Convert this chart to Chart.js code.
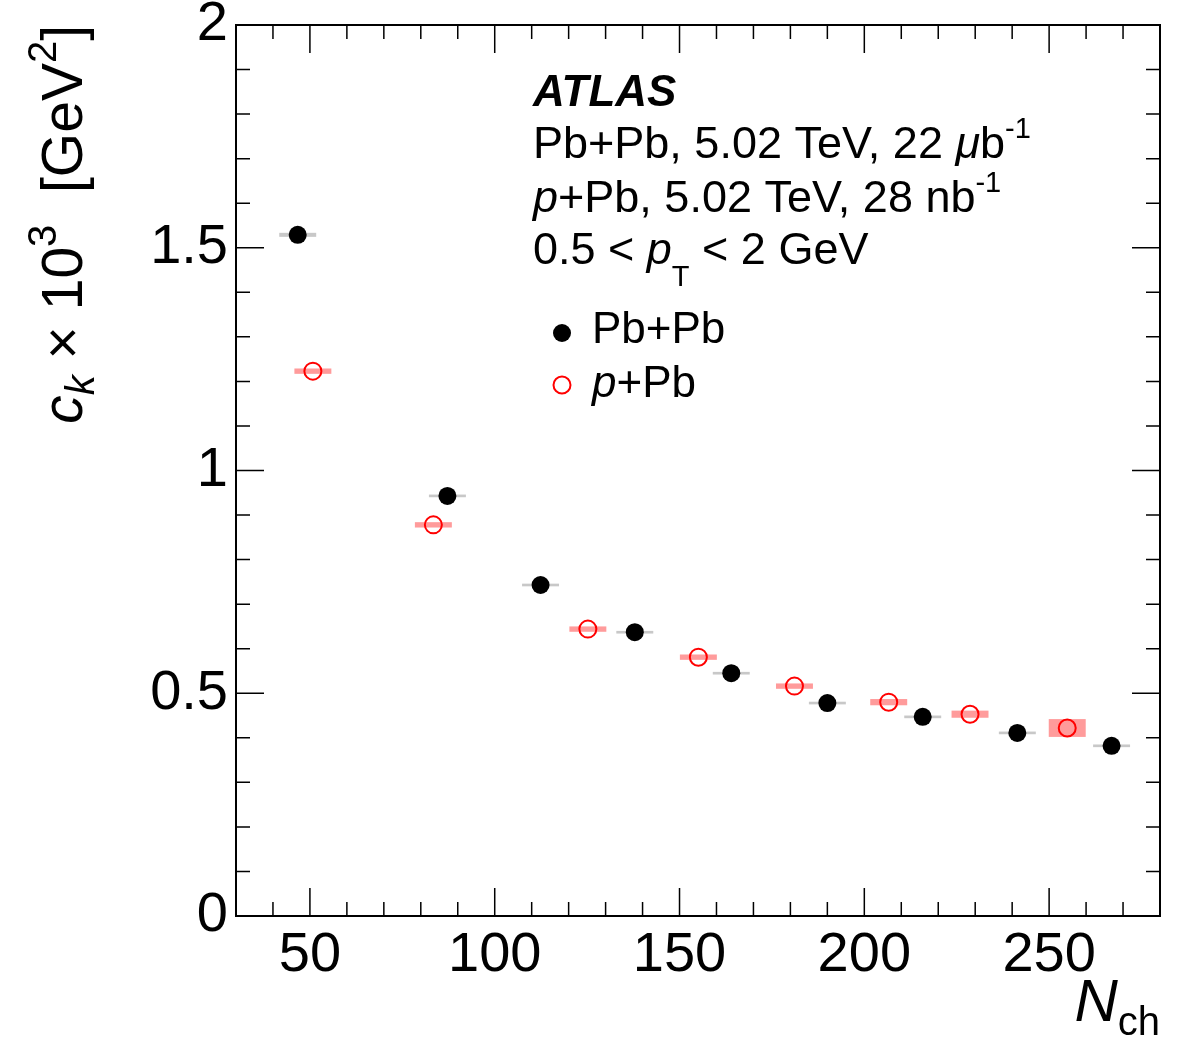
<!DOCTYPE html>
<html>
<head>
<meta charset="utf-8">
<script src="https://cdn.jsdelivr.net/npm/chart.js@4.4.1/dist/chart.umd.min.js"></script>
<style>
  body { margin: 0; background: #fff; }
  canvas { display: block; }
</style>
</head>
<body>
<canvas id="grafica" width="1182" height="1059"></canvas>
<script>
// Pb+Pb (filled black points)
const nchPbPb = [46.7, 87.2, 112.4, 137.9, 164.0, 190.0, 215.8, 241.4, 266.9];
const ckPbPb = [1.529, 0.943, 0.743, 0.637, 0.545, 0.478, 0.447, 0.411, 0.382];
const systPbPb = [0.0045, 0.003, 0.003, 0.003, 0.003, 0.003, 0.003, 0.003, 0.003];

// p+Pb (open red points)
const nchPPb = [50.8, 83.4, 125.2, 155.1, 181.1, 206.6, 228.6, 254.9];
const ckPPb = [1.223, 0.878, 0.644, 0.581, 0.516, 0.480, 0.453, 0.422];
const systPPb = [0.006, 0.006, 0.006, 0.006, 0.006, 0.007, 0.008, 0.02];

const nchHalfWidth = 5; // ancho de las cajas sistematicas

const xTicks = [50, 100, 150, 200, 250];
const yTicks = [0, 0.5, 1, 1.5, 2];

const FONT = '"Liberation Sans", Arial, Helvetica, sans-serif';

function toPoints(xs, ys) {
  return xs.map((x, i) => ({ x: x, y: ys[i] }));
}

// dibuja texto por trozos (normal, italica, sub/superindice)
function drawRich(ctx, x, y, parts) {
  let cx = x;
  parts.forEach(p => {
    ctx.font = (p.style || '') + ' ' + p.size + 'px ' + FONT;
    ctx.fillText(p.t, cx, y + (p.dy || 0));
    cx += ctx.measureText(p.t).width;
  });
  return cx - x;
}

function richWidth(ctx, parts) {
  let w = 0;
  parts.forEach(p => {
    ctx.font = (p.style || '') + ' ' + p.size + 'px ' + FONT;
    w += ctx.measureText(p.t).width;
  });
  return w;
}

// cajas de incertidumbre sistematica
const systBoxes = {
  id: 'systBoxes',
  beforeDatasetsDraw(chart) {
    const { ctx, scales: { x, y } } = chart;
    ctx.save();
    ctx.fillStyle = 'rgb(200,200,200)';
    nchPbPb.forEach((n, i) => {
      const x0 = x.getPixelForValue(n - nchHalfWidth);
      const x1 = x.getPixelForValue(n + nchHalfWidth);
      const y0 = y.getPixelForValue(ckPbPb[i] + systPbPb[i]);
      const y1 = y.getPixelForValue(ckPbPb[i] - systPbPb[i]);
      ctx.fillRect(x0, y0, x1 - x0, Math.max(y1 - y0, 2));
    });
    ctx.fillStyle = 'rgb(255,155,155)';
    nchPPb.forEach((n, i) => {
      const x0 = x.getPixelForValue(n - nchHalfWidth);
      const x1 = x.getPixelForValue(n + nchHalfWidth);
      const y0 = y.getPixelForValue(ckPPb[i] + systPPb[i]);
      const y1 = y.getPixelForValue(ckPPb[i] - systPPb[i]);
      ctx.fillRect(x0, y0, x1 - x0, y1 - y0);
    });
    ctx.restore();
  }
};

// marco, ticks hacia dentro, titulos y leyenda estilo ROOT
const marcoRoot = {
  id: 'marcoRoot',
  afterDraw(chart) {
    const { ctx, chartArea: a, scales: { x, y } } = chart;
    ctx.save();
    ctx.strokeStyle = '#000';
    ctx.lineWidth = 2;
    ctx.strokeRect(a.left, a.top, a.right - a.left, a.bottom - a.top);

    ctx.lineWidth = 1.5;
    ctx.beginPath();
    for (let v = 30; v <= 280; v += 10) {
      const px = x.getPixelForValue(v);
      const len = v % 50 === 0 ? 28 : 14;
      ctx.moveTo(px, a.bottom); ctx.lineTo(px, a.bottom - len);
      ctx.moveTo(px, a.top); ctx.lineTo(px, a.top + len);
    }
    for (let k = 0; k <= 20; k++) {
      const py = y.getPixelForValue(k / 10);
      const len = k % 5 === 0 ? 28 : 14;
      ctx.moveTo(a.left, py); ctx.lineTo(a.left + len, py);
      ctx.moveTo(a.right, py); ctx.lineTo(a.right - len, py);
    }
    ctx.stroke();

    ctx.fillStyle = '#000';
    ctx.textAlign = 'left';
    ctx.textBaseline = 'alphabetic';

    // titulo eje x
    const xt = [
      { t: 'N', size: 60, style: 'italic' },
      { t: 'ch', size: 40, dy: 14 }
    ];
    drawRich(ctx, a.right - richWidth(ctx, xt), 1021, xt);

    // titulo eje y (rotado)
    const yt = [
      { t: 'c', size: 57, style: 'italic' },
      { t: 'k', size: 40, style: 'italic', dy: 12 },
      { t: ' \u00d7 10', size: 57 },
      { t: '3', size: 40, dy: -26 },
      { t: '  [GeV', size: 57 },
      { t: '2', size: 40, dy: -26 },
      { t: ']', size: 57 }
    ];
    ctx.save();
    ctx.translate(82, a.top);
    ctx.rotate(-Math.PI / 2);
    drawRich(ctx, -richWidth(ctx, yt), 0, yt);
    ctx.restore();

    // textos
    drawRich(ctx, 533, 106, [{ t: 'ATLAS', size: 44, style: 'italic bold' }]);
    drawRich(ctx, 533, 158, [
      { t: 'Pb+Pb, 5.02 TeV, 22 ', size: 45 },
      { t: '\u03bc', size: 45, style: 'italic' },
      { t: 'b', size: 45 },
      { t: '-1', size: 29, dy: -20 }
    ]);
    drawRich(ctx, 533, 212, [
      { t: 'p', size: 45, style: 'italic' },
      { t: '+Pb, 5.02 TeV, 28 nb', size: 45 },
      { t: '-1', size: 29, dy: -20 }
    ]);
    drawRich(ctx, 533, 264, [
      { t: '0.5 < ', size: 45 },
      { t: 'p', size: 45, style: 'italic' },
      { t: 'T', size: 29, dy: 22 },
      { t: ' < 2 GeV', size: 45 }
    ]);

    // leyenda
    ctx.beginPath();
    ctx.arc(562, 333, 9, 0, Math.PI * 2);
    ctx.fill();
    ctx.strokeStyle = '#ff0000';
    ctx.lineWidth = 2;
    ctx.beginPath();
    ctx.arc(562, 385, 8.5, 0, Math.PI * 2);
    ctx.stroke();
    drawRich(ctx, 592, 343, [{ t: 'Pb+Pb', size: 44 }]);
    drawRich(ctx, 592, 397, [
      { t: 'p', size: 44, style: 'italic' },
      { t: '+Pb', size: 44 }
    ]);
    ctx.restore();
  }
};

const ctx = document.getElementById('grafica').getContext('2d');
const chart = new Chart(ctx, {
  type: 'scatter',
  data: {
    datasets: [
      {
        label: 'Pb+Pb',
        data: toPoints(nchPbPb, ckPbPb),
        pointStyle: 'circle',
        pointRadius: 9,
        backgroundColor: '#000',
        borderColor: '#000',
        borderWidth: 0
      },
      {
        label: 'p+Pb',
        data: toPoints(nchPPb, ckPPb),
        pointStyle: 'circle',
        pointRadius: 8.5,
        backgroundColor: 'rgba(0,0,0,0)',
        borderColor: '#ff0000',
        borderWidth: 2
      }
    ]
  },
  options: {
    responsive: false,
    animation: false,
    events: [],
    layout: { padding: { top: 25, right: 22, left: 0, bottom: 0 } },
    plugins: { legend: { display: false }, tooltip: { enabled: false } },
    scales: {
      x: {
        type: 'linear',
        min: 30,
        max: 280,
        grid: { display: false, drawTicks: false },
        border: { display: false },
        afterBuildTicks: (s) => { s.ticks = xTicks.map(v => ({ value: v })); },
        afterFit: (s) => { s.height = 143; },
        ticks: {
          color: '#000',
          padding: 6,
          maxRotation: 0,
          autoSkip: false,
          font: { family: FONT, size: 56 }
        }
      },
      y: {
        type: 'linear',
        min: 0,
        max: 2,
        grid: { display: false, drawTicks: false },
        border: { display: false },
        afterBuildTicks: (s) => { s.ticks = yTicks.map(v => ({ value: v })); },
        afterFit: (s) => { s.width = 236; },
        ticks: {
          color: '#000',
          padding: 8,
          autoSkip: false,
          font: { family: FONT, size: 56, lineHeight: 0.5 },
          callback: (v) => String(v)
        }
      }
    }
  },
  plugins: [systBoxes, marcoRoot]
});
</script>
</body>
</html>
